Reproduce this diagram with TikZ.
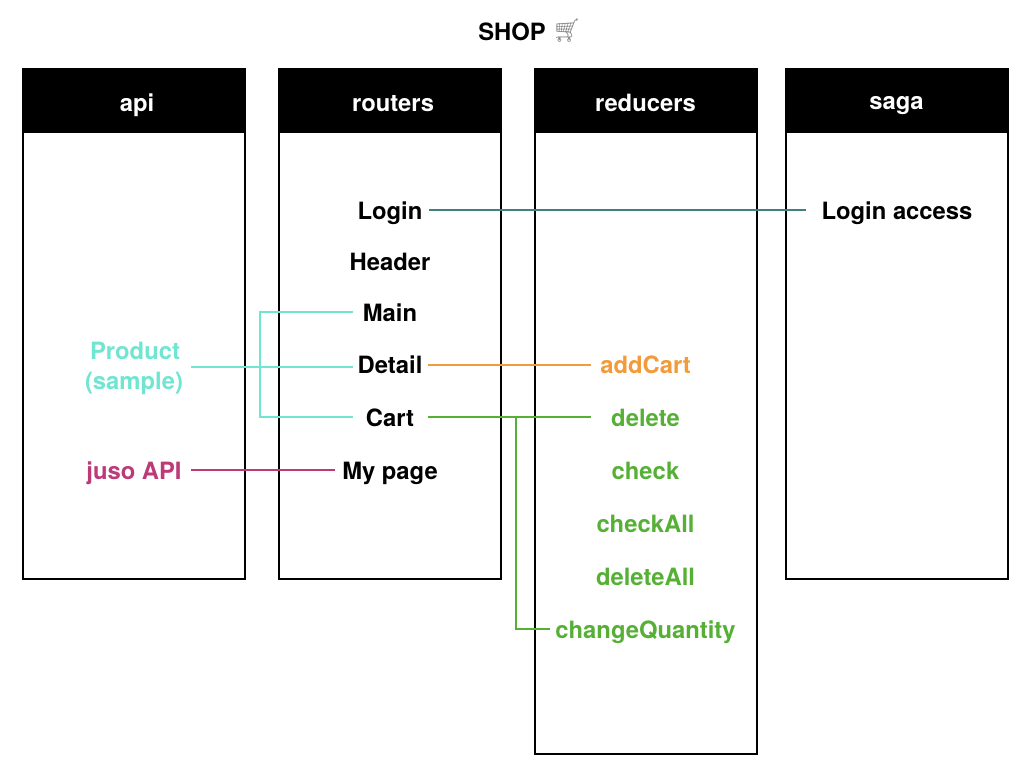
\documentclass[tikz,border=0pt]{standalone}
\usepackage{fontspec}
\setmainfont{TeX Gyre Heros}
\newfontfamily\emojifont{Noto Emoji}
\definecolor{cteal}{HTML}{70E5D2}
\definecolor{corange}{HTML}{F29B3A}
\definecolor{cgreen}{HTML}{55B035}
\definecolor{cmag}{HTML}{BC3A78}
\definecolor{cdark}{HTML}{3F8080}
\tikzset{
  lab/.style={anchor=base,inner sep=0pt,outer sep=0pt,text height=18pt,text depth=0pt,font=\fontsize{23.8}{28}\selectfont\bfseries},
  colbox/.style={draw=black,line width=1.7pt,fill=white},
  headbox/.style={draw=black,line width=1pt,fill=black},
  headlab/.style={lab,text=white},
  conn/.style={line width=1.7pt}
}
\begin{document}
\begin{tikzpicture}[x=1pt,y=-1pt]
\useasboundingbox (0,0) rectangle (1024,768);
% columns
\draw[colbox] (23,69) rectangle (245,579);
\draw[colbox] (279,69) rectangle (501,579);
\draw[colbox] (535,69) rectangle (757,754);
\draw[colbox] (786,69) rectangle (1008,579);
\fill[headbox] (23,69) rectangle (245,132);
\fill[headbox] (279,69) rectangle (501,132);
\fill[headbox] (535,69) rectangle (757,132);
\fill[headbox] (786,69) rectangle (1008,132);
% title
\node[lab] (title) at (512,41) {SHOP};
\node[anchor=base,inner sep=0pt,text=black!45,font=\fontsize{23}{28}\selectfont\emojifont] (cart emoji) at (567,39) {^^^^^^01f6d2};
% headers
\node[headlab] (hapi) at (137,111) {api};
\node[headlab] (hrouters) at (393,111) {routers};
\node[headlab] (hreducers) at (645.5,111) {reducers};
\node[headlab] (hsaga) at (896.5,109) {saga};
% routers
\node[lab] (login) at (390,219) {Login};
\node[lab] (header) at (390,270) {Header};
\node[lab] (main) at (390,321) {Main};
\node[lab] (detail) at (390,373) {Detail};
\node[lab] (cart) at (390,426) {Cart};
\node[lab] (mypage) at (390,479) {My page};
% api
\node[lab,text=cteal] (product) at (135,359) {Product};
\node[lab,text=cteal] (sample) at (134,389) {(sample)};
\coordinate (prodEnd) at (191,367);
\node[lab,text=cmag] (juso) at (134,479) {juso API};
% saga
\node[lab] (access) at (897,219) {Login access};
% reducers
\node[lab,text=corange] (addcart) at (645.5,373) {addCart};
\node[lab,text=cgreen] (delete) at (645.5,426) {delete};
\node[lab,text=cgreen] (check) at (645.5,479) {check};
\node[lab,text=cgreen] (checkall) at (645.5,532) {checkAll};
\node[lab,text=cgreen] (deleteall) at (645.5,585) {deleteAll};
\node[lab,text=cgreen] (change) at (645.5,638) {changeQuantity};
% connectors
\draw[conn,cdark] ([xshift=7pt,yshift=.3pt]login.east) -- ([xshift=-16pt,yshift=.3pt]access.west);
\draw[conn,cteal] ([xshift=-10pt]main.west) -- ++(-93,0) |- ([xshift=-13pt,yshift=.3pt]cart.west);
\draw[conn,cteal] (prodEnd) -- ([xshift=-5pt,yshift=-3pt]detail.west);
\draw[conn,corange] ([xshift=6pt,yshift=-.7pt]detail.east) -- ([xshift=-9pt,yshift=-.7pt]addcart.west);
\draw[conn,cgreen] ([xshift=14pt,yshift=.3pt]cart.east) -- ([xshift=-20pt,yshift=.3pt]delete.west);
\draw[conn,cgreen] (516,416.7) |- ([xshift=-5pt]change.west);
\draw[conn,cmag] ([xshift=9pt,yshift=.3pt]juso.east) -- ([xshift=-7pt,yshift=.3pt]mypage.west);
\end{tikzpicture}
\end{document}
